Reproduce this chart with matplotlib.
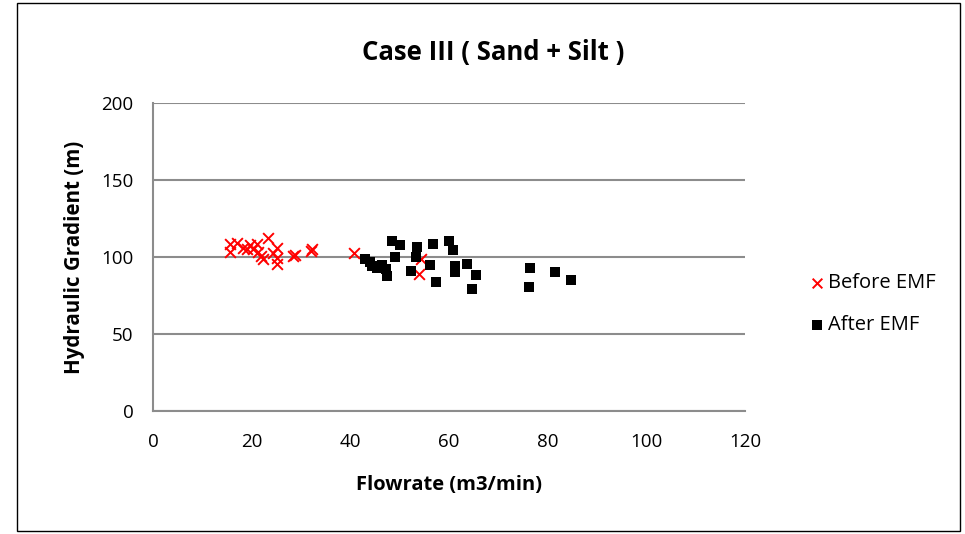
import matplotlib.pyplot as plt
from matplotlib.patches import Rectangle

plt.rcParams['font.family'] = ['Open Sans', 'DejaVu Sans']

# Before EMF (red crosses)
before_x = [15.6, 15.6, 17.1, 18.3, 19.0, 19.7, 20.3, 21.0, 21.2, 22.0, 22.4, 23.4,
            24.4, 25.1, 25.1, 25.1, 28.4, 28.8, 32.0, 32.2, 40.7, 53.9, 54.4]
before_y = [108.5, 103.0, 108.9, 106.0, 105.0, 107.8, 105.2, 108.5, 103.4, 100.5, 99.0, 112.1,
            102.4, 105.6, 99.2, 95.5, 101.0, 101.5, 104.0, 105.0, 102.9, 89.0, 98.5]

# After EMF (black squares)
after_x = [43.0, 44.0, 44.5, 45.5, 46.5, 47.2, 47.5, 48.4, 49.1, 50.1, 52.3, 53.3,
           53.6, 56.2, 56.8, 57.3, 60.1, 60.9, 61.2, 61.2, 63.6, 64.6, 65.5, 76.3,
           76.4, 81.5, 84.7]
after_y = [98.8, 97.0, 94.0, 93.0, 95.0, 92.0, 88.0, 110.5, 100.2, 107.8, 90.8, 100.0,
           106.7, 94.8, 108.3, 83.7, 110.5, 104.3, 94.2, 90.3, 95.5, 79.0, 88.2, 80.3,
           92.6, 90.3, 85.1]

xticks = [0, 20, 40, 60, 80, 100, 120]
yticks = [0, 50, 100, 150, 200]

fig = plt.figure(figsize=(9.65, 5.34), dpi=100)
ax = fig.add_axes([0.1585, 0.2303, 0.6135, 0.5767])

ax.scatter(before_x, before_y, marker='x', s=60, color='#ff0000', linewidths=1.4,
           label='Before EMF', zorder=3)
ax.scatter(after_x, after_y, marker='s', s=60, color='black', linewidths=0,
           label='After EMF', zorder=3)

ax.set_xlim(0, 120)
ax.set_ylim(0, 200)
ax.set_xticks(xticks)
ax.set_yticks(yticks)
ax.tick_params(length=0, labelsize=13.5)
ax.tick_params(axis='x', pad=16)
ax.tick_params(axis='y', pad=14)
ax.grid(axis='y', color='#8c8c8c', linewidth=1.5)
ax.set_axisbelow(True)
for s in ['top', 'right']:
    ax.spines[s].set_visible(False)
for s in ['left', 'bottom']:
    ax.spines[s].set_color('#8c8c8c')
    ax.spines[s].set_linewidth(1.5)

ax.set_xlabel('Flowrate (m3/min)', fontsize=14.5, fontweight='bold', labelpad=17)
ax.set_ylabel('Hydraulic Gradient (m)', fontsize=14.8, fontweight='bold', labelpad=12)
fig.text(0.511, 0.902, 'Case III ( Sand + Silt )', ha='center', va='center',
         fontsize=18.5, fontweight='bold')

fig.legend(loc='center left', bbox_to_anchor=(0.817, 0.43), frameon=False,
           fontsize=14.5, handletextpad=0.05, labelspacing=1.1, handlelength=1.0,
           markerscale=0.9)

fig.patches.append(Rectangle((17 / 965, 3 / 534), 943 / 965, 528 / 534,
                             transform=fig.transFigure, fill=False,
                             edgecolor='black', linewidth=1))

fig.savefig('out.png', dpi=100)
